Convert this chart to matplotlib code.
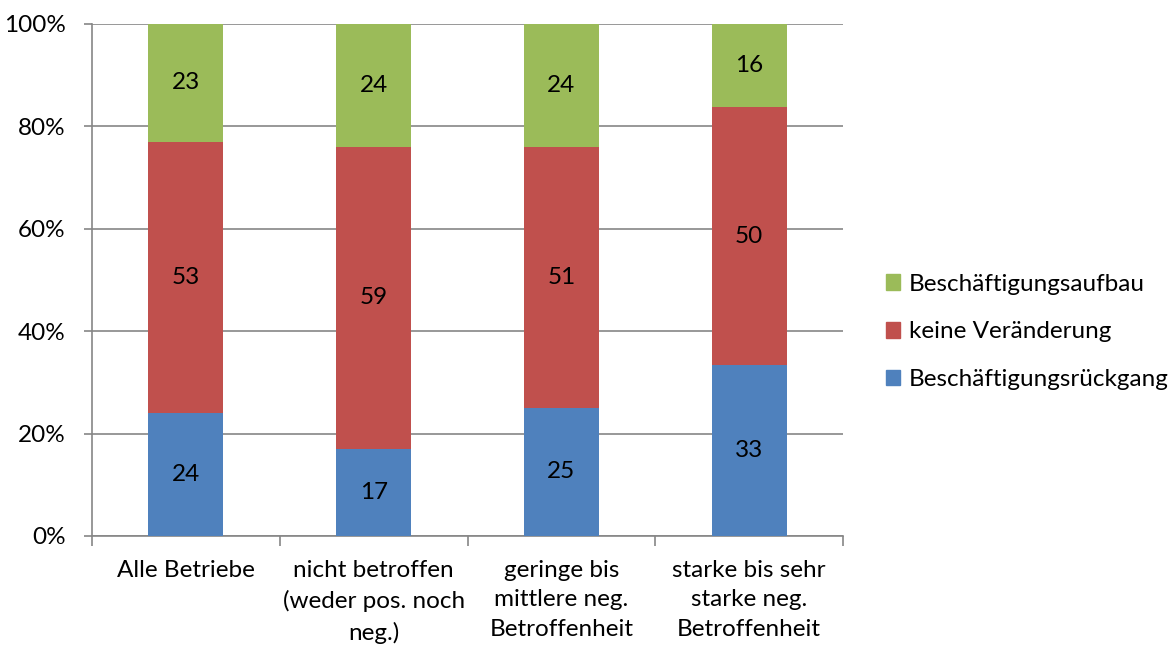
import matplotlib.pyplot as plt
import numpy as np
from matplotlib.patches import Patch

plt.rcParams['font.family'] = ['Lato', 'DejaVu Sans']

categories = ['Alle Betriebe', 'nicht betroffen\n(weder pos. noch\nneg.)',
              'geringe bis\nmittlere neg.\nBetroffenheit', 'starke bis sehr\nstarke neg.\nBetroffenheit']
rueckgang = [24, 17, 25, 33]
keine = [53, 59, 51, 50]
aufbau = [23, 24, 24, 16]

series = [('Beschäftigungsrückgang', rueckgang, '#4F81BD'),
          ('keine Veränderung', keine, '#C0504D'),
          ('Beschäftigungsaufbau', aufbau, '#9BBB59')]

fs = 17.5

#--- normalise to 100% per category
totals = np.sum([s[1] for s in series], axis=0)
x = np.arange(len(categories))

fig = plt.figure(figsize=(11.72, 6.46), dpi=100)
ax = fig.add_axes([92/1172, 1-536/646, (843-92)/1172, (536-24)/646])

bottom = np.zeros(len(categories))
for name, vals, col in series:
    share = np.array(vals)/totals*100
    ax.bar(x, share, 0.4, bottom=bottom, color=col, edgecolor='none', zorder=3)
    for xi, b, s, v in zip(x, bottom, share, vals):
        ax.text(xi, b+s/2, str(v), ha='center', va='center', fontsize=fs, zorder=4)
    bottom += share

ax.set_xlim(-0.5, len(categories)-0.5)
ax.set_ylim(0, 100)
ax.set_yticks(np.arange(0, 101, 20))
ax.set_yticklabels(['{}%'.format(v) for v in range(0, 101, 20)], fontsize=fs)
ax.yaxis.grid(True, color='#868686', linewidth=1.2, zorder=0)

ax.set_xticks(x)
ax.set_xticklabels(categories, fontsize=fs, linespacing=1.52)
ax.set_xticks(np.arange(-0.5, len(categories)), minor=True)
ax.tick_params(axis='x', which='major', length=0, pad=17)
ax.tick_params(axis='x', which='minor', length=7, width=1.2, color='#868686', direction='out')
ax.tick_params(axis='y', length=6, width=1.2, color='#868686', direction='out', pad=13)

for sp in ['top', 'right']:
    ax.spines[sp].set_visible(False)
for sp in ['left', 'bottom']:
    ax.spines[sp].set_color('#868686')
    ax.spines[sp].set_linewidth(1.2)

handles = [Patch(color=col, label=name) for name, vals, col in series[::-1]]
fig.legend(handles=handles, loc='center left', bbox_to_anchor=(864/1172, 1-332/646),
           frameon=False, fontsize=fs, handlelength=0.6, handleheight=0.6,
           handletextpad=0.35, labelspacing=1.1)

plt.savefig('out.png', dpi=100)
